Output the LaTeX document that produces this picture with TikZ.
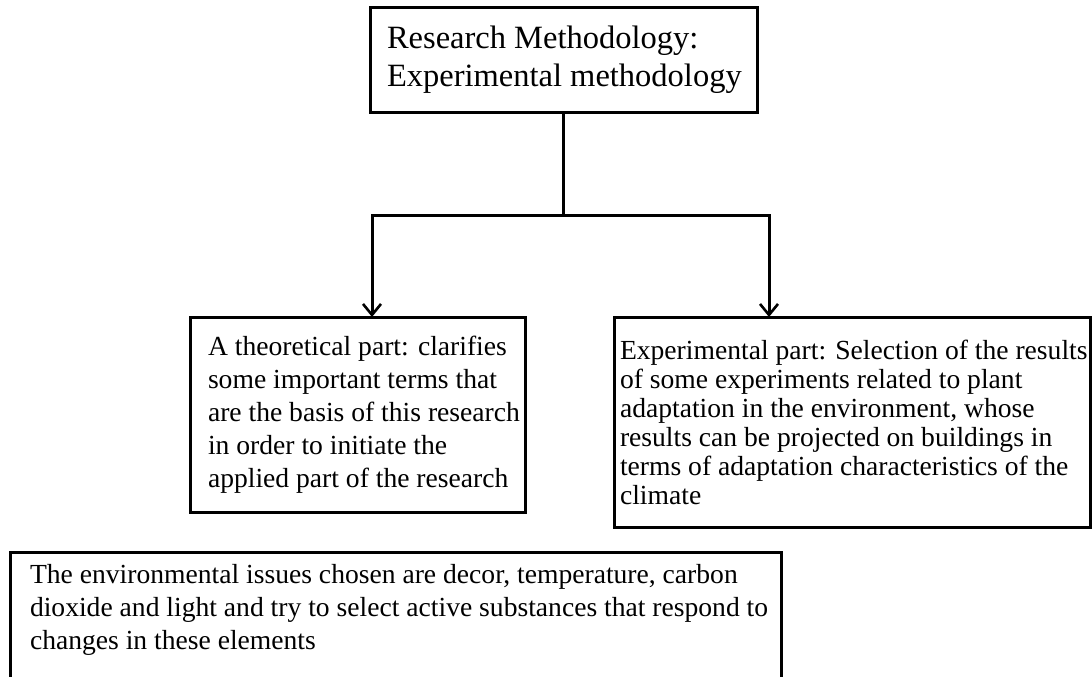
\documentclass[tikz,border=0pt]{standalone}
\usepackage{fontspec}
\setmainfont{Liberation Serif}
\usetikzlibrary{arrows.meta}
\begin{document}
\begin{tikzpicture}[x=1pt,y=-1pt]
\tikzset{
  box/.style={draw=black, line width=3pt, rectangle, inner sep=0pt, outer sep=0pt},
  txt/.style={align=left, inner sep=0pt, outer sep=0pt, text=black},
  arr/.style={line width=3pt, -{Straight Barb[length=11pt,width=18pt,line width=2.6pt]}},
  conn/.style={line width=3pt}
}
\useasboundingbox (0,0) rectangle (1092,677);
% boxes
\node[box, minimum width=387pt, minimum height=104pt] (top) at (563.5,60) {};
\node[box, minimum width=335pt, minimum height=195pt] (left) at (357.5,414.5) {};
\node[box, minimum width=476pt, minimum height=210pt] (right) at (852,422) {};
\node[box, minimum width=771pt, minimum height=160pt, anchor=north west] (bottom) at (10,552) {};
% texts
\node[txt, anchor=west, font=\fontsize{32.5}{38}\selectfont] (toptext) at ([xshift=17pt]top.west)
  {Research Methodology:\\Experimental methodology};
\node[txt, anchor=west, font=\fontsize{27.6}{33}\selectfont] (lefttext) at ([xshift=18pt]left.west)
  {A theoretical part: clarifies\\some important terms that\\are the basis of this research\\in order to initiate the\\applied part of the research};
\node[txt, anchor=west, font=\fontsize{27.6}{29}\selectfont] (righttext) at ([xshift=6pt]right.west)
  {Experimental part: Selection of the results\\of some experiments related to plant\\adaptation in the environment, whose\\results can be projected on buildings in\\terms of adaptation characteristics of the\\climate};
\node[txt, anchor=north west, font=\fontsize{27.6}{33}\selectfont] (bottomtext) at ([xshift=20pt,yshift=-12.2pt]bottom.north west)
  {The environmental issues chosen are decor, temperature, carbon\\dioxide and light and try to select active substances that respond to\\changes in these elements};
% connectors
\coordinate (j) at (563.5,215);
\draw[conn] (top.south) -- (j);
\draw[arr] (j) -| ([xshift=14.5pt]left.north);
\draw[arr] (j) -| ([xshift=-83pt]right.north);
\end{tikzpicture}
\end{document}
